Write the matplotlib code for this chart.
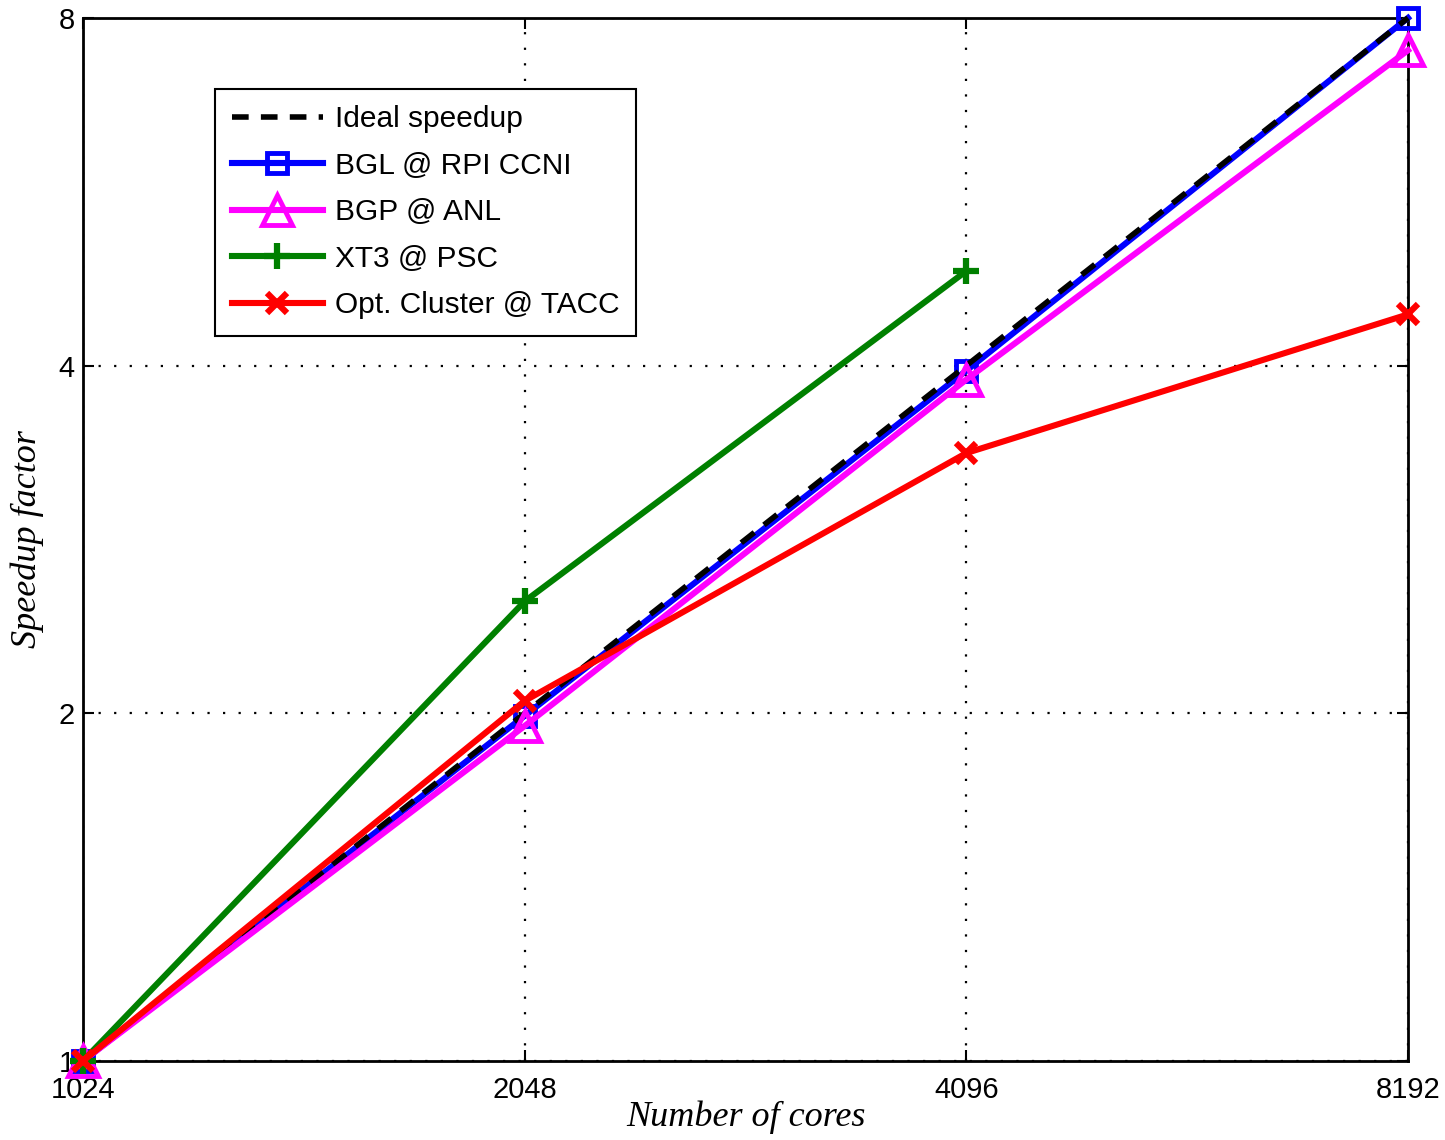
import matplotlib
matplotlib.use('Agg')
import matplotlib.pyplot as plt
from matplotlib.ticker import FixedLocator, NullLocator

plt.rcParams['font.family'] = ['Liberation Sans', 'DejaVu Sans']

cores = [1024, 2048, 4096, 8192]
ideal = [1, 2, 4, 8]
bgl = [1, 1.99, 3.96, 8.0]
bgp = [1, 1.95, 3.89, 7.5]
xt3_cores = [1024, 2048, 4096]
xt3 = [1, 2.50, 4.83]
tacc = [1, 2.05, 3.36, 4.43]

fig = plt.figure(figsize=(14.45, 11.4), dpi=100)
ax = fig.add_axes([0.0574, 0.0693, 0.917, 0.915])

ax.plot(cores, ideal, '--', color='black', lw=4, dashes=(3, 2.2), label='Ideal speedup',
        zorder=3, clip_on=False)
ax.plot(cores, bgl, '-s', color='blue', lw=4.4, ms=15, mfc='none', mew=3.5,
        label='BGL @ RPI CCNI', zorder=2, clip_on=False)
ax.plot(cores, bgp, '-^', color='magenta', lw=4.4, ms=21, mfc='none', mew=3.5,
        label='BGP @ ANL', zorder=4, clip_on=False)
ax.plot(xt3_cores, xt3, '-+', color='green', lw=4.4, ms=19, mew=4.5,
        label='XT3 @ PSC', zorder=4, clip_on=False)
ax.plot(cores, tacc, '-x', color='red', lw=4.4, ms=15, mew=4.5,
        label='Opt. Cluster @ TACC', zorder=5, clip_on=False)

ax.set_xscale('log', base=2)
ax.set_yscale('log', base=2)
ax.set_xlim(1024, 8192)
ax.set_ylim(1, 8)
ax.xaxis.set_major_locator(FixedLocator(cores))
ax.yaxis.set_major_locator(FixedLocator([1, 2, 4, 8]))
ax.xaxis.set_minor_locator(NullLocator())
ax.yaxis.set_minor_locator(NullLocator())
ax.set_xticklabels([str(c) for c in cores])
ax.set_yticklabels(['1', '2', '4', '8'])
ax.tick_params(direction='in', length=8, width=1.5, labelsize=21, top=True, right=True)
ax.tick_params(axis='x', pad=11)
ax.tick_params(axis='y', pad=6)
ax.grid(True, linestyle=(0, (1, 6)), color='black', lw=1.6)
for sp in ax.spines.values():
    sp.set_linewidth(2)
    sp.set_zorder(1)

ax.set_xlabel('Number of cores', family='Liberation Serif', style='italic', fontsize=26, labelpad=-3)
ax.set_ylabel('Speedup factor', family='Liberation Serif', style='italic', fontsize=26, labelpad=10)

leg = ax.legend(loc='upper left', bbox_to_anchor=(0.1, 0.932), fontsize=21.5, handlelength=3.05,
                handletextpad=0.4, fancybox=False, edgecolor='black', framealpha=1,
                borderpad=0.55, labelspacing=0.62, borderaxespad=0)
leg.get_frame().set_linewidth(1.5)

fig.savefig('out.png', dpi=100)
